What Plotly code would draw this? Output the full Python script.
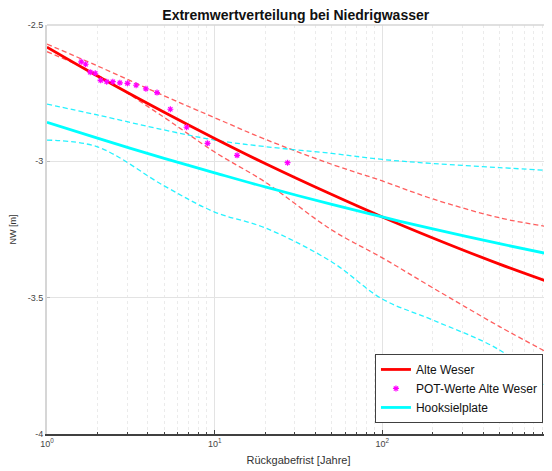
import plotly.graph_objects as go

# Return periods (years) for the fitted curves
T_grid = [1, 2, 5, 10, 20, 50, 100, 200, 500, 1000]

# Alte Weser fit and confidence bounds (NW in m)
aw_fit = [-2.581, -2.687, -2.820, -2.916, -3.008, -3.122, -3.204, -3.281, -3.377, -3.444]
aw_upper = [-2.570, -2.650, -2.760, -2.840, -2.919, -3.011, -3.072, -3.138, -3.207, -3.241]
aw_lower = [-2.598, -2.683, -2.839, -2.966, -3.076, -3.252, -3.354, -3.464, -3.606, -3.706]

# Hooksielplate fit and confidence bounds
hp_fit = [-2.857, -2.915, -2.989, -3.042, -3.094, -3.158, -3.204, -3.248, -3.302, -3.341]
hp_upper = [-2.790, -2.830, -2.885, -2.922, -2.946, -2.971, -2.993, -3.008, -3.023, -3.034]
hp_lower = [-2.922, -2.947, -3.090, -3.186, -3.244, -3.369, -3.505, -3.582, -3.692, -3.836]

# POT values Alte Weser
pot_T = [27.2, 13.6, 9.07, 6.80, 5.44, 4.53, 3.89, 3.40, 3.02, 2.72, 2.47, 2.27, 2.09, 1.94, 1.81, 1.70, 1.60]
pot_nw = [-3.005, -2.978, -2.934, -2.875, -2.809, -2.748, -2.734, -2.721, -2.714, -2.712,
          -2.708, -2.708, -2.703, -2.677, -2.673, -2.644, -2.635]

x_ticks = [1, 10, 100, 1000]
x_ticktext = ["10<sup>0</sup>", "10<sup>1</sup>", "10<sup>2</sup>", "10<sup>3</sup>"]
y_ticks = [-4, -3.5, -3, -2.5]
y_ticktext = ["-4", "-3.5", "-3", "-2.5"]

RED = "#FF0000"
CYAN = "#00FFFF"
FONT = "Liberation Sans, Arial, sans-serif"
DASH = "5px,3px"

fig = go.Figure()

fig.add_trace(go.Scatter(x=T_grid, y=aw_upper, mode="lines", showlegend=False,
                         line=dict(color="rgba(255,40,40,0.75)", width=1.3, dash=DASH, shape="spline")))
fig.add_trace(go.Scatter(x=T_grid, y=aw_lower, mode="lines", showlegend=False,
                         line=dict(color="rgba(255,40,40,0.75)", width=1.3, dash=DASH, shape="spline")))
fig.add_trace(go.Scatter(x=T_grid, y=hp_upper, mode="lines", showlegend=False,
                         line=dict(color="rgba(0,240,255,0.85)", width=1.3, dash=DASH, shape="spline")))
fig.add_trace(go.Scatter(x=T_grid, y=hp_lower, mode="lines", showlegend=False,
                         line=dict(color="rgba(0,240,255,0.85)", width=1.3, dash=DASH, shape="spline")))

fig.add_trace(go.Scatter(x=T_grid, y=aw_fit, mode="lines", name="Alte Weser",
                         line=dict(color=RED, width=2.8, shape="spline")))
fig.add_trace(go.Scatter(x=pot_T, y=pot_nw, mode="markers", name="POT-Werte Alte Weser",
                         marker=dict(symbol="asterisk", size=5, color="#FF00FF",
                                     line=dict(color="#FF00FF", width=1.2))))
fig.add_trace(go.Scatter(x=T_grid, y=hp_fit, mode="lines", name="Hooksielplate",
                         line=dict(color=CYAN, width=2.8, shape="spline")))

# the page body has an 8px default margin, so the figure is sized to fit inside it
fig.update_layout(
    width=544, height=463,
    margin=dict(l=39, r=2, t=17, b=37),
    paper_bgcolor="white", plot_bgcolor="white",
    font=dict(family=FONT, color="#262626"),
    title=dict(text="<b>Extremwertverteilung bei Niedrigwasser</b>", x=0.529, xanchor="center",
               y=0.985, yanchor="middle", font=dict(size=14, color="#111111")),
    xaxis=dict(type="log", range=[0, 3], tickvals=x_ticks, ticktext=x_ticktext,
               showgrid=True, gridcolor="#E3E3E3", gridwidth=1,
               ticks="inside", ticklen=4, tickcolor="#404040",
               showline=True, linecolor="#404040", linewidth=1.5,
               tickfont=dict(size=9, color="#444444"),
               minor=dict(dtick="D1", showgrid=True, gridcolor="#EBEBEB", griddash="dot",
                          ticks="inside", ticklen=2, tickcolor="#404040"),
               title=dict(text="Rückgabefrist [Jahre]", font=dict(size=11, color="#333333"), standoff=9),
               automargin=False, zeroline=False),
    yaxis=dict(range=[-4, -2.5], tickvals=y_ticks, ticktext=y_ticktext,
               showgrid=True, gridcolor="#E3E3E3", gridwidth=1,
               ticks="inside", ticklen=3, tickcolor="#BBBBBB",
               showline=True, linecolor="#D6D6D6", linewidth=2,
               tickfont=dict(size=9, color="#444444"),
               title=dict(text="NW [m]", font=dict(size=9, color="#333333"), standoff=14),
               automargin=False, zeroline=False),
    legend=dict(x=0.986, y=0.027, xanchor="right", yanchor="bottom",
                bgcolor="white", bordercolor="#404040", borderwidth=1,
                font=dict(size=12, color="#111111"), itemwidth=30),
    shapes=[dict(type="line", xref="paper", yref="paper", x0=0, x1=1, y0=1, y1=1,
                 line=dict(color="#D6D6D6", width=1.5))],
)

fig.write_html("out.html")
